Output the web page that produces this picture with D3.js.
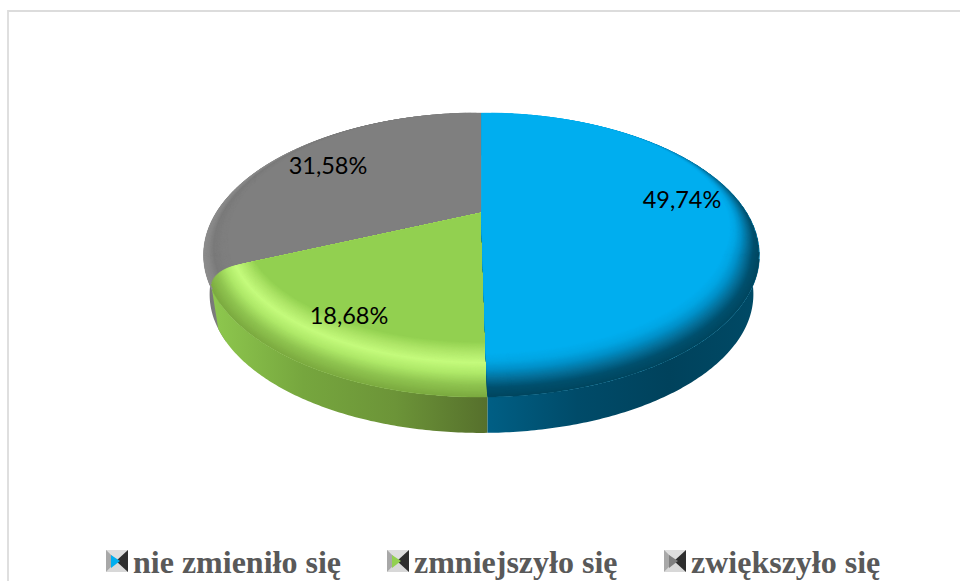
<!DOCTYPE html>
<html>
<head>
<meta charset="utf-8">
<script src="https://cdn.jsdelivr.net/npm/d3@7"></script>
<style>
html, body { margin: 0; padding: 0; background: #fff; }
svg { display: block; }
</style>
</head>
<body>
<svg id="chart"></svg>
<script>
var categories = ['nie zmieniło się', 'zmniejszyło się', 'zwiększyło się'];
var values = [49.74, 18.68, 31.58];
var labels = ['49,74%', '18,68%', '31,58%'];

var faceColors = ['#00aeef', '#92d050', '#7f7f7f'];
var width = 960;
var height = 581;

// perspective of the disc: angle and radius -> screen
var cx = 481.5, cy = 213, R = 265.5, k = 0.296, a = 129.6;
var depth = 41, bottomScale = 0.98;

function project(angle, r, shift) {
  var u = Math.sin(angle) * r;
  var v = -Math.cos(angle) * r;
  var w = 1 - k * v;
  return [cx + R * u / w, cy + a * v / w + (shift || 0)];
}

var svg = d3.select('#chart').attr('width', width).attr('height', height);

svg.append('path')
    .attr('d', 'M8,581V11H960')
    .attr('fill', 'none')
    .attr('stroke', '#dcdcdc')
    .attr('stroke-width', 1.8);

var arcs = d3.pie().sort(null).value(d => d)(values);
var line = d3.line();

function arcPoints(a0, a1, radius, shift) {
  var n = Math.max(2, Math.ceil(Math.abs(a1 - a0) / 0.01));
  return d3.range(n + 1).map(function(i) {
    var ang = a0 + (a1 - a0) * i / n;
    return project(ang, radius(ang), shift);
  });
}

// green corner is rounded off at the rim, grey runs under it
var roundEnd = [0, 0.115, 0];
var underStart = [0, 0, 0.2];
var bevelWidth = [0.18, 0.23, 0.13];
// the bevel fades out towards the back of the disc
var taperStart = [1.9, 0, 0];
var taperEnd = [0, 0, 1.0];

var sideStops = [
  ['#005f85', '#004b69', '#00425c', '#004a66'],
  ['#8ec84e', '#76a63e', '#6c9438', '#56702c'],
  ['#8e8e8e', '#777777', '#7f7f7f', '#7f7f7f']
];
var sideX = [[487, 759], [212, 487], [203, 225]];
var defs = svg.append('defs');
sideStops.forEach(function(stops, i) {
  var g = defs.append('linearGradient')
      .attr('id', 'side' + i)
      .attr('gradientUnits', 'userSpaceOnUse')
      .attr('x1', sideX[i][0])
      .attr('x2', sideX[i][1])
      .attr('y1', 0).attr('y2', 0);
  stops.forEach(function(c, j) {
    g.append('stop').attr('offset', j / (stops.length - 1)).attr('stop-color', c);
  });
});

// bevel colours from rim (0) to flat face (1)
var bevelStops = [
  ['#00465f', '#00506e', '#05709a', '#0090c8', '#00a6e4', '#00aeef'],
  ['#7cab40', '#8fc450', '#aee868', '#c4fb7c', '#aee668', '#92d050'],
  ['#8c8c8c', '#868686', '#7a7a7a', '#7c7c7c', '#7f7f7f', '#7f7f7f']
];
var layers = d3.range(0, 1.0001, 1 / 40);

[2, 1, 0].forEach(function(i) {
  var d = arcs[i];
  var g = svg.append('g').attr('class', 'slice');
  var a0 = d.startAngle - underStart[i];
  var a1 = d.endAngle - roundEnd[i];

  // side wall
  var sideEnd = i === 2 ? Math.PI * 1.7 : a1;
  var top = arcPoints(a0, sideEnd, () => 1, 0);
  var bottom = arcPoints(sideEnd, a0, () => bottomScale, depth);
  g.append('path')
      .attr('d', line(top.concat(bottom)) + 'Z')
      .attr('fill', 'url(#side' + i + ')');

  // flat face first, so the tapered bevel sits on it
  var face = arcPoints(a0, d.endAngle - roundEnd[i], () => 1, 0);
  face.unshift([cx, cy]);
  g.append('path').attr('d', line(face) + 'Z').attr('fill', faceColors[i]);

  var color = d3.scaleLinear()
      .domain(d3.range(bevelStops[i].length).map(j => j / (bevelStops[i].length - 1)))
      .range(bevelStops[i])
      .interpolate(d3.interpolateRgb);

  // bevel: stack of shrinking faces, the first visible layer at each angle touches the rim
  layers.forEach(function(t) {
    var radius = function(ang) {
      var tMin = 0;
      if (taperStart[i]) tMin = Math.max(tMin, 1 - (ang - a0) / taperStart[i]);
      if (taperEnd[i]) tMin = Math.max(tMin, 1 - (d.endAngle - ang) / taperEnd[i]);
      return 1 - bevelWidth[i] * Math.max(0, t - tMin) * (1 - Math.cos(ang)) / 2;
    };
    var q = 1 - Math.min(1, t / 0.6);
    var ins = 1 - Math.sqrt(1 - q * q);
    var b0 = a0 + taperStart[i] * (1 - t);
    var b1 = d.endAngle - roundEnd[i] * ins - taperEnd[i] * (1 - t);
    var pts = arcPoints(b0, b1, radius, 0);
    pts.unshift([cx, cy]);
    g.append('path')
        .attr('d', line(pts) + 'Z')
        .attr('fill', color(t))
        .attr('stroke', color(t))
        .attr('stroke-width', 0.4);
  });
});

// data labels
var labelPos = [[682, 200], [349, 316], [328, 166]];
svg.selectAll('.label')
    .data(labels)
  .enter()
  .append('text')
    .classed('label', true)
    .attr('x', (d, i) => labelPos[i][0])
    .attr('y', (d, i) => labelPos[i][1])
    .attr('dy', '0.35em')
    .attr('text-anchor', 'middle')
    .attr('font-family', 'Lato, "Open Sans", sans-serif')
    .attr('font-size', 23.5)
    .attr('fill', '#000')
    .text(d => d);

// legend
var legendX = [106, 387, 664];
var legend = svg.selectAll('.legend')
    .data(categories)
  .enter()
  .append('g')
    .classed('legend', true)
    .attr('transform', (d, i) => 'translate(' + legendX[i] + ',550)');

var s = 22;
legend.append('rect').attr('width', s).attr('height', s).attr('fill', '#c8c8c8');
legend.append('path').attr('d', `M0,0L${s},0L${s / 2},${s / 2}Z`).attr('fill', '#dedede');
legend.append('path').attr('d', `M0,0L${s / 2},${s / 2}L0,${s}Z`).attr('fill', '#a8a8a8');
legend.append('path').attr('d', `M0,${s}L${s / 2},${s / 2}L${s},${s}Z`).attr('fill', '#d8d8d8');
legend.append('path').attr('d', `M${s},0L${s - 12},${s / 2}L${s},${s}Z`).attr('fill', '#2e2e2e');
legend.append('path')
    .attr('d', `M5,5L14,${s / 2}L5,${s - 4}Z`)
    .attr('fill', (d, i) => faceColors[i]);

legend.append('text')
    .attr('x', 27)
    .attr('y', 23)
    .attr('font-family', '"Liberation Serif", serif')
    .attr('font-weight', 'bold')
    .attr('font-size', 32)
    .attr('fill', '#595959')
    .text(d => d);
</script>
</body>
</html>
